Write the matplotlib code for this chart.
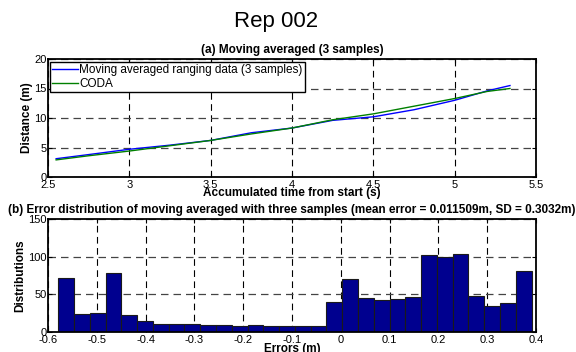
import numpy as np
import matplotlib
matplotlib.use("Agg")
import matplotlib.pyplot as plt

plt.rcParams['font.family'] = ['Liberation Sans', 'DejaVu Sans']

# ---- data: top panel ----
time_s = [2.55, 2.75, 3.0, 3.25, 3.5, 3.75, 4.0, 4.25, 4.5, 4.75, 5.0, 5.2, 5.34]
ranging_ma = [3.1, 3.8, 4.7, 5.4, 6.2, 7.5, 8.3, 9.6, 10.2, 11.4, 13.0, 14.6, 15.5]
coda = [2.9, 3.6, 4.4, 5.3, 6.2, 7.3, 8.3, 9.7, 10.7, 12.0, 13.3, 14.5, 15.0]

# ---- data: bottom panel histogram ----
err_min, err_max = -0.579, 0.391
counts = [72, 24, 25, 78, 23, 15, 11, 10, 11, 9, 9, 8, 9, 8, 8, 8, 8,
          40, 70, 45, 43, 44, 47, 102, 100, 103, 48, 34, 39, 81]

top_xticks = [2.5, 3, 3.5, 4, 4.5, 5, 5.5]
top_yticks = [0, 5, 10, 15, 20]
bot_xticks = [-0.6, -0.5, -0.4, -0.3, -0.2, -0.1, 0, 0.1, 0.2, 0.3, 0.4]
bot_yticks = [0, 50, 100, 150]

W, H = 576, 352
fig = plt.figure(figsize=(W / 100, H / 100), dpi=100)

def frac(l, t, r, b):
    return [l / W, 1 - b / H, (r - l) / W, (b - t) / H]

ax1 = fig.add_axes(frac(48, 59, 536, 177))
ax2 = fig.add_axes(frac(48, 219, 536, 332))

def style(ax):
    for s in ax.spines.values():
        s.set_linewidth(1.3)
    ax.tick_params(direction='in', length=3, width=0.8, top=True, right=True,
                   labelsize=8, pad=2)
    ax.tick_params(axis='y', pad=1)
    ax.set_axisbelow(True)
    ax.xaxis.grid(True, color='black', linestyle=(0, (6, 4)), linewidth=0.8)
    ax.yaxis.grid(True, color='#444444', linestyle=(0, (6, 4)), linewidth=0.9)

# top panel
ax1.plot(time_s, ranging_ma, color='#0000FF', lw=1.0,
         label='Moving averaged ranging data (3 samples)')
ax1.plot(time_s, coda, color='#008000', lw=1.0, label='CODA')
ax1.set_xlim(2.5, 5.5)
ax1.set_ylim(0, 20)
ax1.set_xticks(top_xticks)
ax1.set_xticklabels(['2.5', '3', '3.5', '4', '4.5', '5', '5.5'])
ax1.set_yticks(top_yticks)
style(ax1)
ax1.set_title('(a) Moving averaged (3 samples)', fontsize=8.5, fontweight='bold', pad=4)
ax1.set_xlabel('Accumulated time from start (s)', fontsize=8.5, fontweight='bold', labelpad=-2)
ax1.set_ylabel('Distance (m)', fontsize=8.5, fontweight='bold', labelpad=1)
leg = ax1.legend(loc='upper left', bbox_to_anchor=(0.004, 0.975), borderaxespad=0,
                 fontsize=8.5, frameon=True, fancybox=False, handlelength=2.2,
                 handletextpad=0.1, borderpad=0.2, labelspacing=0.15)
leg.get_frame().set_edgecolor('black')
leg.get_frame().set_linewidth(1.0)
leg.get_frame().set_alpha(1)

# bottom panel
edges = np.linspace(err_min, err_max, len(counts) + 1)
ax2.bar(edges[:-1], counts, width=np.diff(edges), align='edge',
        color='#00008F', edgecolor='#1a1a1a', linewidth=0.8, zorder=2)
ax2.set_xlim(-0.6, 0.4)
ax2.set_ylim(0, 150)
ax2.set_xticks(bot_xticks)
ax2.set_xticklabels(['-0.6', '-0.5', '-0.4', '-0.3', '-0.2', '-0.1', '0', '0.1', '0.2', '0.3', '0.4'])
ax2.set_yticks(bot_yticks)
style(ax2)
ax2.set_title('(b) Error distribution of moving averaged with three samples '
              '(mean error = 0.011509m, SD = 0.3032m)',
              fontsize=8.5, fontweight='bold', pad=4)
ax2.set_xlabel('Errors (m)', fontsize=8.5, fontweight='bold', labelpad=-1)
ax2.set_ylabel('Distributions', fontsize=8.5, fontweight='bold', labelpad=1)

fig.text(276 / W, 1 - 22 / H, 'Rep 002', ha='center', va='center', fontsize=16)

fig.savefig('out.png', dpi=100)
